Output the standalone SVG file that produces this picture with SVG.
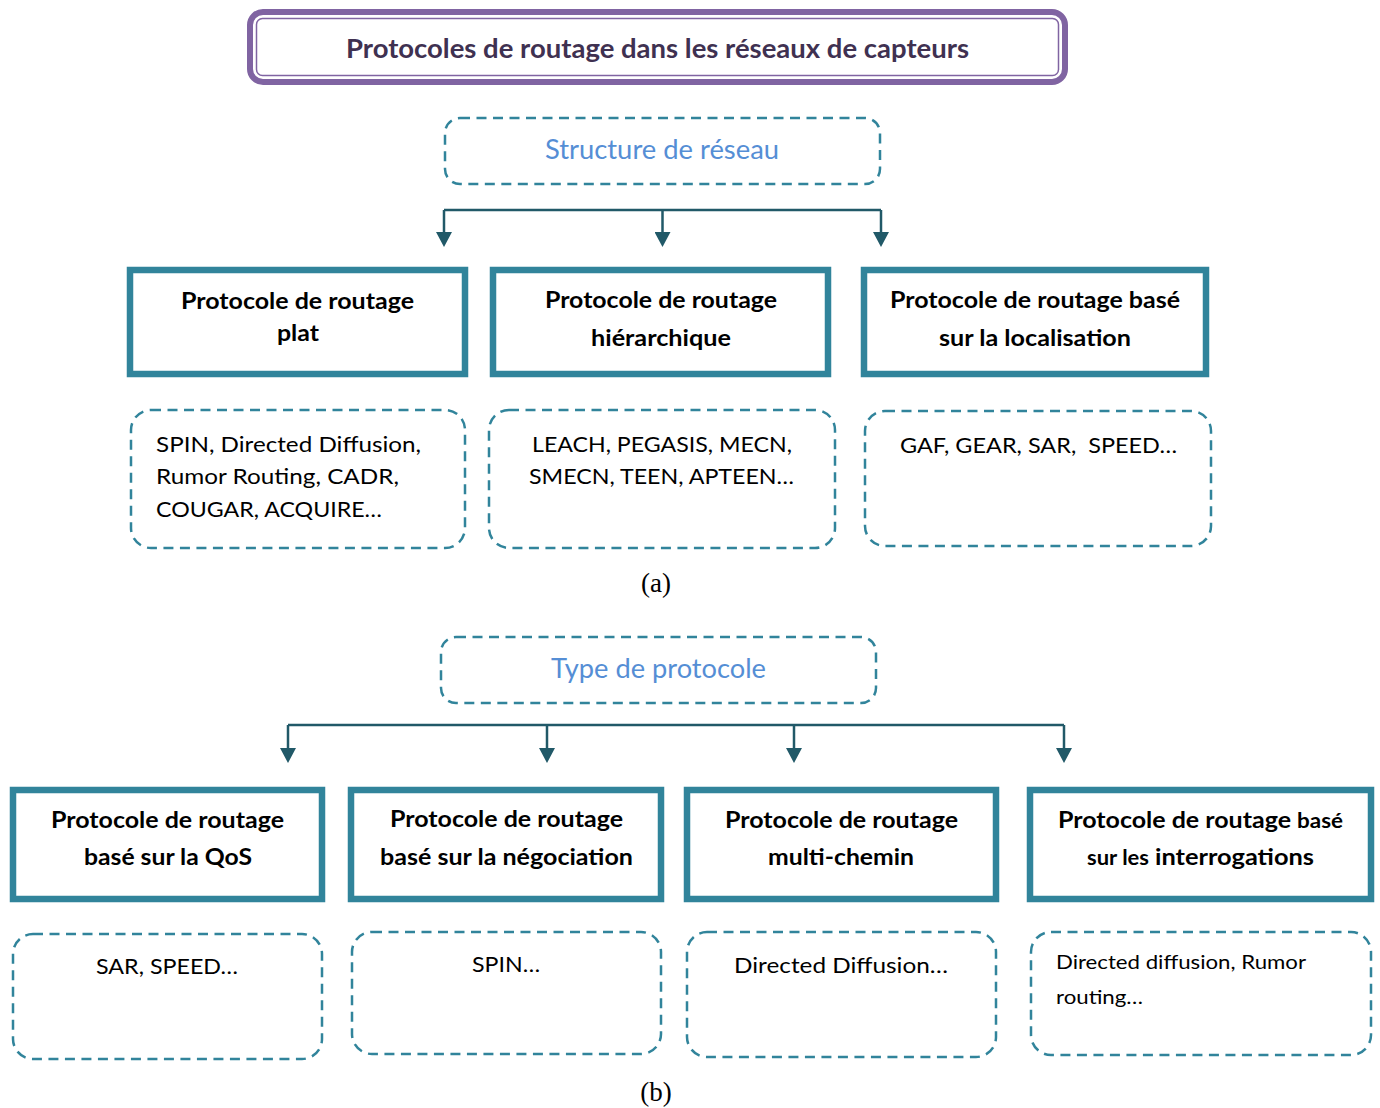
<svg xmlns="http://www.w3.org/2000/svg" width="1380" height="1108" viewBox="0 0 1380 1108">
  <style>
    .bg { fill: #ffffff; }
    .box { fill: #ffffff; stroke: #31849b; stroke-width: 6.5; }
    .dash { fill: #ffffff; stroke: #31849b; stroke-width: 2.5; stroke-dasharray: 10 6.5; }
    .conn { fill: none; stroke: #215968; stroke-width: 2.5; }
    .t { font-family: Lato, "Open Sans", "Liberation Sans", sans-serif; fill: #000000; }
    .b { font-weight: bold; font-size: 23px; text-anchor: middle; }
    .r { font-size: 22px; }
    .c { text-anchor: middle; }
    .blue { font-size: 26px; fill: #558ed5; text-anchor: middle; }
    .head { font-size: 26px; font-weight: bold; fill: #3f3151; text-anchor: middle; }
    .cap { font-family: "Liberation Serif", "Times New Roman", serif; font-size: 27px; fill: #000000; text-anchor: middle; }
  </style>
  <defs>
    <marker id="arrow" viewBox="0 0 15 16" markerWidth="15" markerHeight="16" refX="8" refY="8" orient="auto" markerUnits="userSpaceOnUse">
      <path d="M0,0 L15,8 L0,16 Z" fill="#215968"/>
    </marker>
  </defs>

  <rect class="bg" x="0" y="0" width="1380" height="1108"/>

  <!-- Title -->
  <g id="title">
    <rect x="250" y="12" width="815" height="70" rx="13" fill="#ffffff" stroke="#8064a2" stroke-width="6"/>
    <rect x="256.5" y="18.5" width="802" height="57" rx="6" fill="none" stroke="#8064a2" stroke-width="1.5"/>
    <text class="t head" x="657.5" y="58" textLength="623" lengthAdjust="spacingAndGlyphs">Protocoles de routage dans les réseaux de capteurs</text>
  </g>

  <!-- (a) classification by network structure -->
  <g id="structure">
    <rect class="dash" x="445" y="118" width="435" height="66" rx="15"/>
    <text class="t blue" x="662" y="159" textLength="234" lengthAdjust="spacingAndGlyphs">Structure de réseau</text>
  </g>

  <g id="plat">
    <rect class="box" x="130" y="270" width="335" height="104"/>
    <text class="t b" x="297.5" y="309" textLength="233" lengthAdjust="spacingAndGlyphs">Protocole de routage</text>
    <text class="t b" x="298" y="341" textLength="42" lengthAdjust="spacingAndGlyphs">plat</text>
  </g>
  <g id="hierarchique">
    <rect class="box" x="493" y="270" width="335" height="104"/>
    <text class="t b" x="661" y="308" textLength="232" lengthAdjust="spacingAndGlyphs">Protocole de routage</text>
    <text class="t b" x="661" y="346" textLength="140" lengthAdjust="spacingAndGlyphs">hiérarchique</text>
  </g>
  <g id="localisation">
    <rect class="box" x="864" y="270" width="342" height="104"/>
    <text class="t b" x="1035" y="308" textLength="290" lengthAdjust="spacingAndGlyphs">Protocole de routage basé</text>
    <text class="t b" x="1035" y="346" textLength="192" lengthAdjust="spacingAndGlyphs">sur la localisation</text>
  </g>

  <g id="ex-plat">
    <rect class="dash" x="131" y="410" width="334" height="138" rx="20"/>
    <text class="t r" x="156" y="452" textLength="265" lengthAdjust="spacingAndGlyphs">SPIN, Directed Diffusion,</text>
    <text class="t r" x="156" y="484" textLength="243" lengthAdjust="spacingAndGlyphs">Rumor Routing, CADR,</text>
    <text class="t r" x="156" y="517" textLength="226" lengthAdjust="spacingAndGlyphs">COUGAR, ACQUIRE…</text>
  </g>
  <g id="ex-hierarchique">
    <rect class="dash" x="489" y="410" width="346" height="138" rx="20"/>
    <text class="t r c" x="662" y="452" textLength="260" lengthAdjust="spacingAndGlyphs">LEACH, PEGASIS, MECN,</text>
    <text class="t r c" x="661.5" y="484" textLength="265" lengthAdjust="spacingAndGlyphs">SMECN, TEEN, APTEEN…</text>
  </g>
  <g id="ex-localisation">
    <rect class="dash" x="865" y="411" width="346" height="135" rx="20"/>
    <text class="t r c" x="1038.5" y="453" textLength="277" lengthAdjust="spacingAndGlyphs" xml:space="preserve">GAF, GEAR, SAR,  SPEED…</text>
  </g>

  <text class="cap" x="656" y="592">(a)</text>

  <!-- (b) classification by protocol type -->
  <g id="type">
    <rect class="dash" x="441" y="637" width="435" height="66" rx="15"/>
    <text class="t blue" x="658.5" y="678" textLength="215" lengthAdjust="spacingAndGlyphs">Type de protocole</text>
  </g>

  <g id="qos">
    <rect class="box" x="13" y="790" width="309" height="109"/>
    <text class="t b" x="167.5" y="828" textLength="233" lengthAdjust="spacingAndGlyphs">Protocole de routage</text>
    <text class="t b" x="168" y="865" textLength="168" lengthAdjust="spacingAndGlyphs">basé sur la QoS</text>
  </g>
  <g id="negociation">
    <rect class="box" x="351" y="790" width="310" height="109"/>
    <text class="t b" x="506.5" y="827" textLength="233" lengthAdjust="spacingAndGlyphs">Protocole de routage</text>
    <text class="t b" x="506.5" y="865" textLength="253" lengthAdjust="spacingAndGlyphs">basé sur la négociation</text>
  </g>
  <g id="multichemin">
    <rect class="box" x="687" y="790" width="309" height="109"/>
    <text class="t b" x="841.5" y="828" textLength="233" lengthAdjust="spacingAndGlyphs">Protocole de routage</text>
    <text class="t b" x="841" y="865" textLength="146" lengthAdjust="spacingAndGlyphs">multi-chemin</text>
  </g>
  <g id="interrogations">
    <rect class="box" x="1030" y="790" width="341" height="109"/>
    <text class="t" x="1058" y="828" font-weight="bold"><tspan font-size="23" textLength="233" lengthAdjust="spacingAndGlyphs">Protocole de routage</tspan><tspan font-size="20" dx="6" textLength="46" lengthAdjust="spacingAndGlyphs">basé</tspan></text>
    <text class="t" x="1087" y="865" font-weight="bold"><tspan font-size="20" textLength="62" lengthAdjust="spacingAndGlyphs">sur les</tspan><tspan font-size="23" dx="6" textLength="159" lengthAdjust="spacingAndGlyphs">interrogations</tspan></text>
  </g>

  <g id="ex-qos">
    <rect class="dash" x="13" y="934" width="309" height="125" rx="20"/>
    <text class="t r c" x="167" y="974" textLength="142" lengthAdjust="spacingAndGlyphs">SAR, SPEED…</text>
  </g>
  <g id="ex-negociation">
    <rect class="dash" x="352" y="932" width="309" height="122" rx="20"/>
    <text class="t r c" x="506" y="972" textLength="68" lengthAdjust="spacingAndGlyphs">SPIN…</text>
  </g>
  <g id="ex-multichemin">
    <rect class="dash" x="687" y="932" width="309" height="125" rx="20"/>
    <text class="t r c" x="841" y="973" textLength="214" lengthAdjust="spacingAndGlyphs">Directed Diffusion…</text>
  </g>
  <g id="ex-interrogations">
    <rect class="dash" x="1031" y="932" width="340" height="123" rx="20"/>
    <text class="t" x="1056" y="969" font-size="20" textLength="250" lengthAdjust="spacingAndGlyphs">Directed diffusion, Rumor</text>
    <text class="t" x="1056" y="1004" font-size="20" textLength="87" lengthAdjust="spacingAndGlyphs">routing…</text>
  </g>

  <text class="cap" x="656" y="1101">(b)</text>

  <!-- Connectors -->
  <g id="connectors">
    <path class="conn" d="M444,210 H881"/>
    <path class="conn" d="M444,210 V240" marker-end="url(#arrow)"/>
    <path class="conn" d="M662.5,210 V240" marker-end="url(#arrow)"/>
    <path class="conn" d="M881,210 V240" marker-end="url(#arrow)"/>

    <path class="conn" d="M288,725 H1064"/>
    <path class="conn" d="M288,725 V756" marker-end="url(#arrow)"/>
    <path class="conn" d="M547,725 V756" marker-end="url(#arrow)"/>
    <path class="conn" d="M794,725 V756" marker-end="url(#arrow)"/>
    <path class="conn" d="M1064,725 V756" marker-end="url(#arrow)"/>
  </g>
</svg>
